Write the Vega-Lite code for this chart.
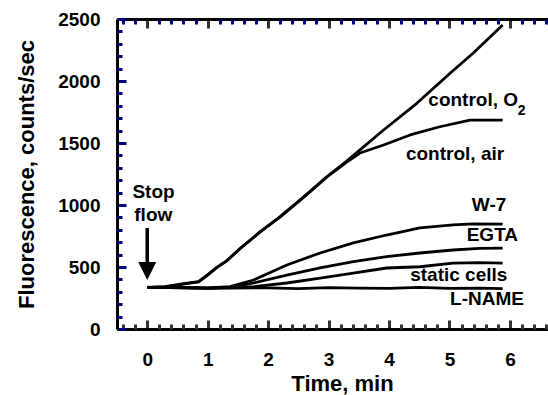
{
  "$schema": "https://vega.github.io/schema/vega-lite/v6.json",
  "width": 431,
  "height": 310,
  "autosize": {"type": "none"},
  "padding": {"left": 117, "top": 19, "right": 0, "bottom": 66},
  "background": "white",
  "config": {
    "view": {"stroke": null},
    "font": "Liberation Sans",
    "axis": {
      "domainColor": "black", "labelColor": "black", "titleColor": "black",
      "grid": false, "labelFont": "Liberation Sans", "titleFont": "Liberation Sans",
      "labelFontWeight": "bold", "titleFontWeight": "bold", "labelFontSize": 19, "titleFontSize": 22,
      "domainWidth": 3
    }
  },
  "datasets": {
    "curves": [
      {"s": "O2", "t": 0, "v": 335}, {"s": "O2", "t": 0.3, "v": 342}, {"s": "O2", "t": 0.6, "v": 365}, {"s": "O2", "t": 0.85, "v": 382},
      {"s": "O2", "t": 1.0, "v": 438}, {"s": "O2", "t": 1.15, "v": 497}, {"s": "O2", "t": 1.3, "v": 545}, {"s": "O2", "t": 1.54, "v": 651},
      {"s": "O2", "t": 1.87, "v": 785}, {"s": "O2", "t": 2.2, "v": 906}, {"s": "O2", "t": 2.6, "v": 1070}, {"s": "O2", "t": 2.97, "v": 1228},
      {"s": "O2", "t": 3.3, "v": 1355}, {"s": "O2", "t": 3.52, "v": 1444}, {"s": "O2", "t": 3.91, "v": 1605}, {"s": "O2", "t": 4.46, "v": 1820},
      {"s": "O2", "t": 5.01, "v": 2062}, {"s": "O2", "t": 5.39, "v": 2224}, {"s": "O2", "t": 5.88, "v": 2452},
      {"s": "air", "t": 0, "v": 335}, {"s": "air", "t": 0.3, "v": 340}, {"s": "air", "t": 0.6, "v": 362}, {"s": "air", "t": 0.85, "v": 380},
      {"s": "air", "t": 1.0, "v": 435}, {"s": "air", "t": 1.15, "v": 495}, {"s": "air", "t": 1.3, "v": 543}, {"s": "air", "t": 1.54, "v": 649},
      {"s": "air", "t": 1.87, "v": 783}, {"s": "air", "t": 2.2, "v": 904}, {"s": "air", "t": 2.6, "v": 1068}, {"s": "air", "t": 2.97, "v": 1225},
      {"s": "air", "t": 3.3, "v": 1345}, {"s": "air", "t": 3.52, "v": 1419}, {"s": "air", "t": 3.91, "v": 1484}, {"s": "air", "t": 4.35, "v": 1565},
      {"s": "air", "t": 4.84, "v": 1631}, {"s": "air", "t": 5.34, "v": 1685}, {"s": "air", "t": 5.88, "v": 1685},
      {"s": "W7", "t": 0, "v": 335}, {"s": "W7", "t": 0.6, "v": 336}, {"s": "W7", "t": 1.0, "v": 332}, {"s": "W7", "t": 1.37, "v": 341},
      {"s": "W7", "t": 1.76, "v": 395}, {"s": "W7", "t": 2.31, "v": 516}, {"s": "W7", "t": 2.86, "v": 613}, {"s": "W7", "t": 3.41, "v": 694},
      {"s": "W7", "t": 3.96, "v": 758}, {"s": "W7", "t": 4.51, "v": 815}, {"s": "W7", "t": 5.06, "v": 839}, {"s": "W7", "t": 5.4, "v": 848},
      {"s": "W7", "t": 5.88, "v": 845},
      {"s": "EGTA", "t": 0, "v": 335}, {"s": "EGTA", "t": 1.0, "v": 330}, {"s": "EGTA", "t": 1.4, "v": 338}, {"s": "EGTA", "t": 1.76, "v": 371},
      {"s": "EGTA", "t": 2.31, "v": 435}, {"s": "EGTA", "t": 2.86, "v": 492}, {"s": "EGTA", "t": 3.41, "v": 543}, {"s": "EGTA", "t": 3.96, "v": 583},
      {"s": "EGTA", "t": 4.51, "v": 613}, {"s": "EGTA", "t": 5.06, "v": 637}, {"s": "EGTA", "t": 5.5, "v": 650}, {"s": "EGTA", "t": 5.88, "v": 653},
      {"s": "static", "t": 0, "v": 335}, {"s": "static", "t": 1.0, "v": 330}, {"s": "static", "t": 1.4, "v": 336}, {"s": "static", "t": 1.76, "v": 341},
      {"s": "static", "t": 2.31, "v": 371}, {"s": "static", "t": 2.86, "v": 411}, {"s": "static", "t": 3.41, "v": 451}, {"s": "static", "t": 3.96, "v": 492},
      {"s": "static", "t": 4.51, "v": 502}, {"s": "static", "t": 5.06, "v": 532}, {"s": "static", "t": 5.5, "v": 535}, {"s": "static", "t": 5.88, "v": 532},
      {"s": "LNAME", "t": 0, "v": 335}, {"s": "LNAME", "t": 0.5, "v": 333}, {"s": "LNAME", "t": 1.0, "v": 328}, {"s": "LNAME", "t": 1.4, "v": 330},
      {"s": "LNAME", "t": 2.0, "v": 332}, {"s": "LNAME", "t": 2.5, "v": 325}, {"s": "LNAME", "t": 3.0, "v": 333}, {"s": "LNAME", "t": 3.5, "v": 330},
      {"s": "LNAME", "t": 4.0, "v": 328}, {"s": "LNAME", "t": 4.5, "v": 335}, {"s": "LNAME", "t": 5.0, "v": 327}, {"s": "LNAME", "t": 5.5, "v": 330},
      {"s": "LNAME", "t": 5.88, "v": 325}
    ],
    "labels": [
      {"label": "control, O", "t": 4.65, "v": 1845},
      {"label": "control, air", "t": 4.28, "v": 1415},
      {"label": "W-7", "t": 5.37, "v": 1000},
      {"label": "EGTA", "t": 5.285, "v": 762},
      {"label": "static cells", "t": 4.35, "v": 435},
      {"label": "L-NAME", "t": 5.01, "v": 238}
    ],
    "sub": [{"label": "2", "t": 6.13, "v": 1758}],
    "stop": [{"label": "Stop", "t": 0.104, "v": 1101}, {"label": "flow", "t": 0.1, "v": 923}],
    "arrow": [{"t": 0, "v": 815, "v2": 540}],
    "head": [{"t": 0, "v": 468}]
  },
  "resolve": {"axis": {"x": "independent", "y": "independent"}},
  "layer": [
    {
      "data": {"name": "curves"},
      "mark": {"type": "line", "color": "black", "strokeWidth": 2.8, "strokeJoin": "round"},
      "encoding": {
        "x": {"field": "t", "type": "quantitative", "scale": {"domain": [-0.5, 6.63], "nice": false, "zero": false},
          "axis": {"orient": "bottom", "values": [0, 1, 2, 3, 4, 5, 6], "tickSize": -9, "tickWidth": 3, "tickColor": "#333333", "labelPadding": 30, "format": "d",
            "title": "Time, min", "titleX": 225, "titleY": 61, "titleBaseline": "alphabetic", "titleAnchor": "middle", "titleAlign": "center"}},
        "y": {"field": "v", "type": "quantitative", "scale": {"domain": [0, 2500], "nice": false},
          "axis": {"orient": "left", "values": [0, 500, 1000, 1500, 2000, 2500], "tickSize": -9, "tickWidth": 3, "tickColor": "#000080", "labelPadding": 26, "format": "d",
            "title": "Fluorescence, counts/sec", "titlePadding": 19}},
        "detail": {"field": "s"}
      }
    },
    {
      "data": {"name": "curves"},
      "mark": {"type": "line", "opacity": 0},
      "encoding": {
        "x": {"field": "t", "type": "quantitative", "scale": {"domain": [-0.5, 6.63], "nice": false, "zero": false},
          "axis": {"orient": "bottom", "values": [-0.4, -0.2, 0.2, 0.4, 0.6, 0.8, 1.2, 1.4, 1.6, 1.8, 2.2, 2.4, 2.6, 2.8, 3.2, 3.4, 3.6, 3.8, 4.2, 4.4, 4.6, 4.8, 5.2, 5.4, 5.6, 5.8, 6.2, 6.4, 6.6],
            "tickSize": -5, "tickWidth": 3, "tickColor": "#333333", "labels": true, "labelOpacity": 0, "labelFontSize": 2, "domain": false, "title": null}},
        "y": {"field": "v", "type": "quantitative", "scale": {"domain": [0, 2500], "nice": false},
          "axis": {"orient": "left", "values": [100, 200, 300, 400, 600, 700, 800, 900, 1100, 1200, 1300, 1400, 1600, 1700, 1800, 1900, 2100, 2200, 2300, 2400],
            "tickSize": -5, "tickWidth": 3, "tickColor": "#000080", "labels": true, "labelOpacity": 0, "labelFontSize": 2, "domain": false, "title": null}},
        "detail": {"field": "s"}
      }
    },
    {
      "data": {"name": "curves"},
      "mark": {"type": "line", "opacity": 0},
      "encoding": {
        "x": {"field": "t", "type": "quantitative", "scale": {"domain": [-0.5, 6.63], "nice": false, "zero": false},
          "axis": {"orient": "top", "values": [0, 1, 2, 3, 4, 5, 6], "tickSize": -9, "tickWidth": 3, "tickColor": "#333333", "labels": true, "labelOpacity": 0, "labelFontSize": 2, "domain": true, "title": null}},
        "y": {"field": "v", "type": "quantitative", "scale": {"domain": [0, 2500], "nice": false}, "axis": null},
        "detail": {"field": "s"}
      }
    },
    {
      "data": {"name": "curves"},
      "mark": {"type": "line", "opacity": 0},
      "encoding": {
        "x": {"field": "t", "type": "quantitative", "scale": {"domain": [-0.5, 6.63], "nice": false, "zero": false},
          "axis": {"orient": "top", "values": [-0.4, -0.2, 0.2, 0.4, 0.6, 0.8, 1.2, 1.4, 1.6, 1.8, 2.2, 2.4, 2.6, 2.8, 3.2, 3.4, 3.6, 3.8, 4.2, 4.4, 4.6, 4.8, 5.2, 5.4, 5.6, 5.8, 6.2, 6.4, 6.6],
            "tickSize": -5, "tickWidth": 3, "tickColor": "#000080", "labels": true, "labelOpacity": 0, "labelFontSize": 2, "domain": false, "title": null}},
        "y": {"field": "v", "type": "quantitative", "scale": {"domain": [0, 2500], "nice": false}, "axis": null},
        "detail": {"field": "s"}
      }
    },
    {
      "data": {"name": "labels"},
      "mark": {"type": "text", "align": "left", "baseline": "middle", "font": "Liberation Sans", "fontSize": 19, "fontWeight": "bold", "color": "black"},
      "encoding": {
        "x": {"field": "t", "type": "quantitative", "axis": null},
        "y": {"field": "v", "type": "quantitative", "axis": null},
        "text": {"field": "label"}
      }
    },
    {
      "data": {"name": "sub"},
      "mark": {"type": "text", "align": "left", "baseline": "middle", "font": "Liberation Sans", "fontSize": 14, "fontWeight": "bold", "color": "black"},
      "encoding": {
        "x": {"field": "t", "type": "quantitative", "axis": null},
        "y": {"field": "v", "type": "quantitative", "axis": null},
        "text": {"field": "label"}
      }
    },
    {
      "data": {"name": "stop"},
      "mark": {"type": "text", "align": "center", "baseline": "middle", "font": "Liberation Sans", "fontSize": 19, "fontWeight": "bold", "color": "black"},
      "encoding": {
        "x": {"field": "t", "type": "quantitative", "axis": null},
        "y": {"field": "v", "type": "quantitative", "axis": null},
        "text": {"field": "label"}
      }
    },
    {
      "data": {"name": "arrow"},
      "mark": {"type": "rule", "color": "black", "strokeWidth": 3.5},
      "encoding": {
        "x": {"field": "t", "type": "quantitative", "axis": null},
        "y": {"field": "v", "type": "quantitative", "axis": null},
        "y2": {"field": "v2"}
      }
    },
    {
      "data": {"name": "head"},
      "mark": {"type": "point", "shape": "M-1,-1L1,-1L0,1Z", "filled": true, "color": "black", "opacity": 1, "size": 324, "strokeWidth": 0},
      "encoding": {
        "x": {"field": "t", "type": "quantitative", "axis": null},
        "y": {"field": "v", "type": "quantitative", "axis": null}
      }
    }
  ]
}
